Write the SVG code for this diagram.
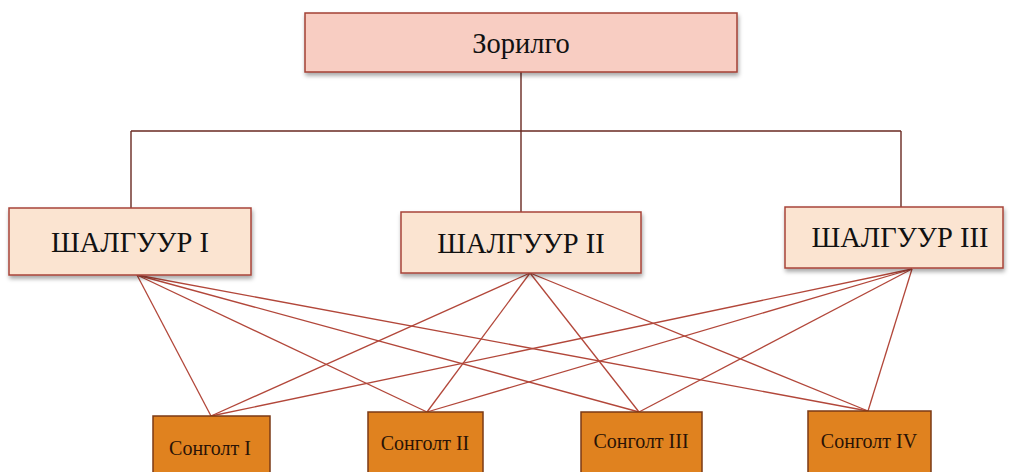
<svg xmlns="http://www.w3.org/2000/svg" width="1011" height="472" viewBox="0 0 1011 472">
<defs>
<filter id="sh" x="-10%" y="-20%" width="120%" height="150%">
<feDropShadow dx="1" dy="3" stdDeviation="2" flood-color="#000" flood-opacity="0.35"/>
</filter>
<style>
.goal{fill:#f8cdc2;stroke:#a34034;stroke-width:1.5;filter:url(#sh)}
.crit{fill:#fbe4d1;stroke:#a84438;stroke-width:1.5;filter:url(#sh)}
.alt{fill:#e0821f;stroke:#7b3a16;stroke-width:1.5}
.t{font-family:"Liberation Serif","Times New Roman",serif;fill:#111;text-anchor:middle}
.big{font-size:28.5px}
.small{font-size:20px;fill:#2a1306}
.tree{stroke:#6a2a22;stroke-width:1.4;fill:none}
.cross{stroke:#b2473a;stroke-width:1.3;fill:none}
</style>
</defs>
<g id="connectors">
<path class="tree" d="M521,72 V131 M131,131 H901 M131,131 V208 M521,131 V212 M901,131 V207"/>
<g class="cross">
<line x1="137" y1="275" x2="211" y2="416"/>
<line x1="137" y1="275" x2="427" y2="412"/>
<line x1="137" y1="275" x2="639" y2="412"/>
<line x1="137" y1="275" x2="868" y2="411"/>
<line x1="530" y1="273" x2="211" y2="416"/>
<line x1="530" y1="273" x2="427" y2="412"/>
<line x1="530" y1="273" x2="639" y2="412"/>
<line x1="530" y1="273" x2="868" y2="411"/>
<line x1="912" y1="269" x2="211" y2="416"/>
<line x1="912" y1="269" x2="427" y2="412"/>
<line x1="912" y1="269" x2="639" y2="412"/>
<line x1="912" y1="269" x2="868" y2="411"/>
</g>
</g>
<g id="goal">
<rect class="goal" x="305" y="13" width="432" height="59"/>
<text class="t big" x="521" y="53">Зорилго</text>
</g>
<g id="crit1">
<rect class="crit" x="9" y="208" width="242" height="67"/>
<text class="t big" x="130" y="252">ШАЛГУУР I</text>
</g>
<g id="crit2">
<rect class="crit" x="401" y="212" width="240" height="61"/>
<text class="t big" x="521" y="253">ШАЛГУУР II</text>
</g>
<g id="crit3">
<rect class="crit" x="785" y="207" width="218" height="61"/>
<text class="t big" x="900" y="247">ШАЛГУУР III</text>
</g>
<g id="alt1">
<rect class="alt" x="153" y="416" width="117" height="60"/>
<text class="t small" x="210" y="455">Сонголт I</text>
</g>
<g id="alt2">
<rect class="alt" x="368" y="412" width="115" height="64"/>
<text class="t small" x="425" y="450">Сонголт II</text>
</g>
<g id="alt3">
<rect class="alt" x="581" y="412" width="121" height="64"/>
<text class="t small" x="641" y="448">Сонголт III</text>
</g>
<g id="alt4">
<rect class="alt" x="808" y="411" width="123" height="65"/>
<text class="t small" x="869" y="448">Сонголт IV</text>
</g>
</svg>
